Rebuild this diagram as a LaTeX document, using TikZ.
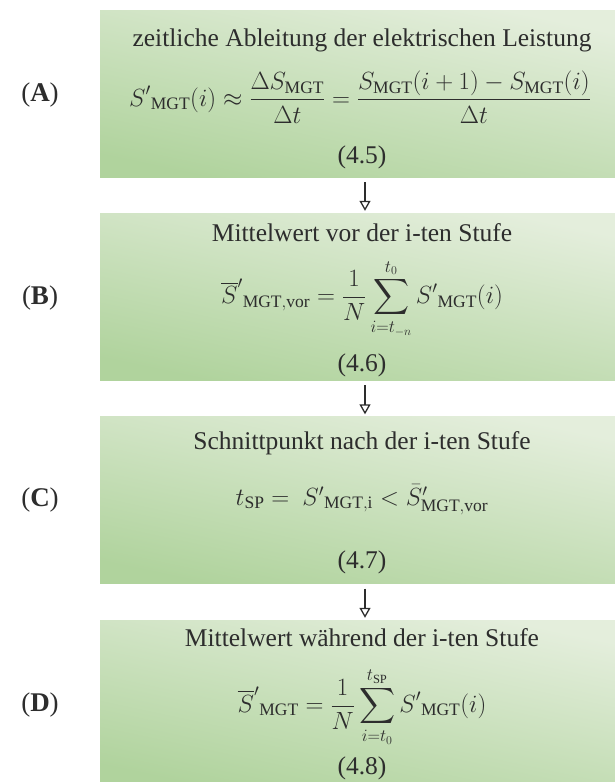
\documentclass[tikz,border=0pt]{standalone}
\usepackage{amsmath, amssymb}
\usepackage{fontspec}
\setmainfont{Liberation Serif}
\usepackage{tikz}
\usetikzlibrary{arrows.meta, positioning, calc}
\usepackage{xcolor}
\definecolor{boxlight}{RGB}{228,238,220}
\definecolor{boxdark}{RGB}{176,211,157}
\definecolor{ink}{RGB}{45,45,45}
\tikzset{
  stepbox/.style={rectangle, inner sep=0pt, minimum width=515pt, minimum height=167pt,
                 top color=boxlight, bottom color=boxdark, shading angle=-12},
  steptitle/.style={inner sep=0pt, text=ink, font=\fontsize{25.5}{28}\selectfont},
  formula/.style={inner sep=0pt, text=ink, font=\fontsize{25}{28}\selectfont},
  eqnum/.style={inner sep=0pt, text=ink, font=\fontsize{25.5}{28}\selectfont},
  steplabel/.style={inner sep=0pt, text=ink, font=\fontsize{27}{30}\selectfont},
  flowarrow/.style={line width=1.3pt, draw=ink, -{Triangle[open, length=10pt, width=11pt, line width=1.3pt]}},
}

\begin{document}
\begin{tikzpicture}[x=1pt, y=-1pt]
    \useasboundingbox (0,0) rectangle (615,782);
    %% (A): zeitliche Ableitung
    \node[stepbox] (boxA) at (357.5,93.5) {};
    \node[steptitle] (titleA) at (362,40) {zeitliche Ableitung der elektrischen Leistung};
    \node[formula] (eqA) at (360,97) {$\displaystyle {S'}_{\mathrm{MGT}}(i) \approx \frac{\Delta S_{\mathrm{MGT}}}{\Delta t} = \frac{S_{\mathrm{MGT}}(i+1) - S_{\mathrm{MGT}}(i)}{\Delta t}$};
    \node[eqnum] (numA) at (362,157) {(4.5)};
    \node[steplabel] (labelA) at (40,95) {(\textbf{A})};
    %% (B): Mittelwert vor der Stufe
    \node[stepbox] (boxB) at (357.5,296.5) {};
    \node[steptitle] (titleB) at (362,233) {Mittelwert vor der i-ten Stufe};
    \node[formula] (eqB) at (362,299) {$\displaystyle {\overline{S}'}_{\mathrm{MGT,vor}} = \frac{1}{N}\sum_{i=t_{-n}}^{t_0} {S'}_{\mathrm{MGT}}(i)$};
    \node[eqnum] (numB) at (362,365) {(4.6)};
    \node[steplabel] (labelB) at (40,298) {(\textbf{B})};
    %% (C): Schnittpunkt
    \node[stepbox] (boxC) at (357.5,500) {};
    \node[steptitle] (titleC) at (362,443) {Schnittpunkt nach der i-ten Stufe};
    \node[formula] (eqC) at (362,500) {$t_{\mathrm{SP}} = \ {S'}_{\mathrm{MGT,i}} < {\bar{S}'}_{\mathrm{MGT,vor}}$};
    \node[eqnum] (numC) at (362,562) {(4.7)};
    \node[steplabel] (labelC) at (40,500) {(\textbf{C})};
    %% (D): Mittelwert waehrend der Stufe
    \node[stepbox] (boxD) at (357.5,703.5) {};
    \node[steptitle] (titleD) at (362,638) {Mittelwert während der i-ten Stufe};
    \node[formula] (eqD) at (362,707) {$\displaystyle {\overline{S}'}_{\mathrm{MGT}} = \frac{1}{N}\sum_{i=t_0}^{t_{\mathrm{SP}}} {S'}_{\mathrm{MGT}}(i)$};
    \node[eqnum] (numD) at (362,768) {(4.8)};
    \node[steplabel] (labelD) at (40,705) {(\textbf{D})};
    %% arrows between the steps
    \draw[flowarrow] ([xshift=7.5pt,yshift=-5pt]boxA.south) -- ([xshift=7.5pt,yshift=2pt]boxB.north);
    \draw[flowarrow] ([xshift=7.5pt,yshift=-5pt]boxB.south) -- ([xshift=7.5pt,yshift=2pt]boxC.north);
    \draw[flowarrow] ([xshift=7.5pt,yshift=-5pt]boxC.south) -- ([xshift=7.5pt,yshift=2pt]boxD.north);
\end{tikzpicture}
\end{document}
